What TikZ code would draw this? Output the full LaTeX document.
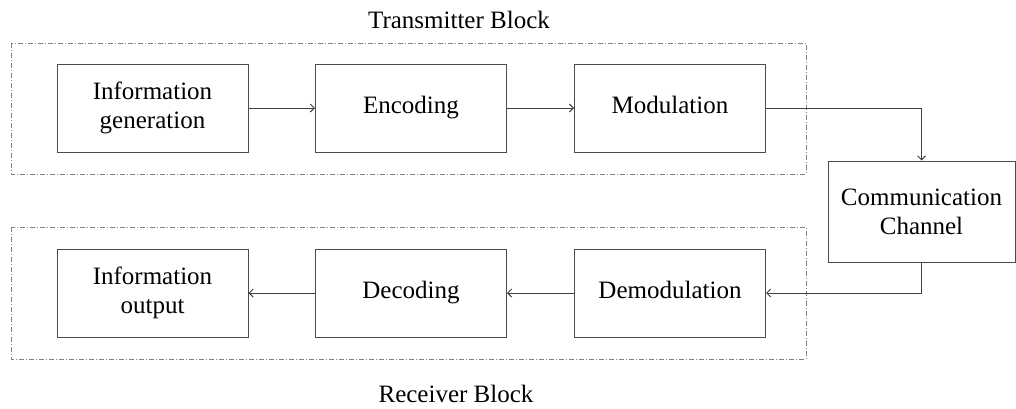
\documentclass[tikz,border=0pt]{standalone}
\usepackage{fontspec}
\setmainfont{Liberation Serif}
\usepackage{tikz}
\usetikzlibrary{arrows.meta}

\begin{document}
\begin{tikzpicture}[x=0.5pt,y=-0.5pt,
  blk/.style={draw=black!70,line width=0.5pt,rectangle,minimum width=95.5pt,minimum height=44pt,inner sep=1pt,align=center,font=\fontsize{12.5}{14.5}\selectfont},
  oneline/.style={blk,text height=0.8em,text depth=0.24em},
  grp/.style={draw=black!50,line width=0.5pt,dash pattern=on 2.5pt off 1pt on 0.5pt off 1pt},
  lnk/.style={draw=black!75,line width=0.5pt,-{Straight Barb[length=2pt,width=4pt]}},
  ttl/.style={font=\fontsize{12.5}{14.5}\selectfont}]
\useasboundingbox (0,0) rectangle (1016,408);
% group frames
\draw[grp] (11,43) rectangle (806,174);
\draw[grp] (11,227) rectangle (806,359);
\node[ttl] (txlbl) at (459,20) {Transmitter Block};
\node[ttl] (rxlbl) at (456,394) {Receiver Block};
% transmitter chain
\node[blk] (infogen) at (152.5,108) {Information\\generation};
\node[oneline] (enc) at (411,108) {Encoding};
\node[oneline] (mod) at (670,108) {Modulation};
% channel
\node[blk,minimum width=93.5pt,minimum height=50.5pt] (chan) at (921.5,211.5) {Communication\\Channel};
% receiver chain
\node[oneline] (demod) at (670,293) {Demodulation};
\node[oneline] (dec) at (411,293) {Decoding};
\node[blk] (infoout) at (152.5,293) {Information\\output};
\draw[lnk] (infogen) -- (enc);
\draw[lnk] (enc) -- (mod);
\draw[lnk] (mod.east) -| (chan.north);
\draw[lnk] (chan.south) |- (demod.east);
\draw[lnk] (demod) -- (dec);
\draw[lnk] (dec) -- (infoout);
\end{tikzpicture}
\end{document}
